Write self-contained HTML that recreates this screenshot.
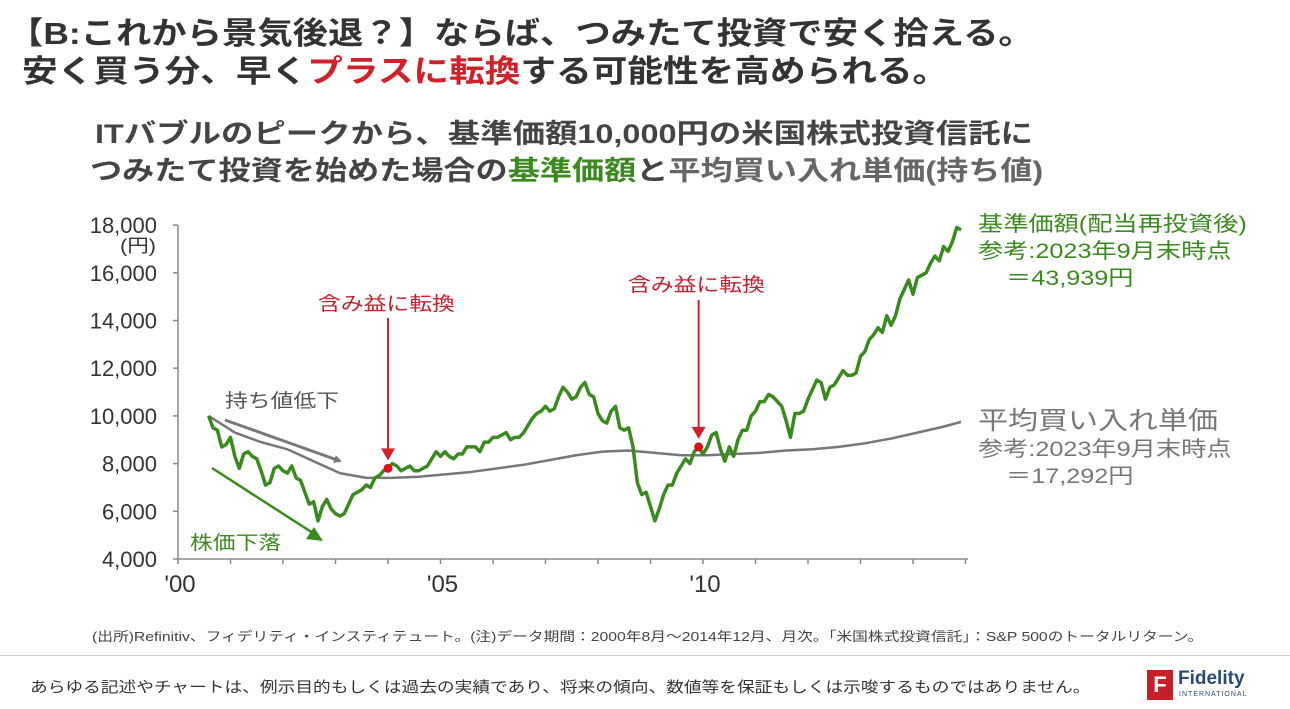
<!DOCTYPE html>
<html><head><meta charset="utf-8">
<style>
html,body{margin:0;padding:0;background:#fff;}
body{width:1290px;height:709px;overflow:hidden;position:relative;font-family:"Liberation Sans","Noto Sans CJK JP",sans-serif;color:#333;}
.t{position:absolute;white-space:nowrap;transform-origin:0 0;transform:scaleX(1.2);}
</style></head>
<body>
<div class="t" style="left:8px;top:8px;font-size:31px;font-weight:bold;color:#333;transform:scaleX(1.14);">【B:これから景気後退？】ならば、つみたて投資で安く拾える。</div>
<div class="t" style="left:22px;top:46px;font-size:31px;font-weight:bold;color:#333;transform:scaleX(1.15);">安く買う分、早く<span style="color:#d0202a">プラスに転換</span>する可能性を高められる。</div>
<div class="t" style="left:95px;top:112px;font-size:27px;font-weight:bold;color:#444;transform:scaleX(1.2);">ITバブルのピークから、基準価額10,000円の米国株式投資信託に</div>
<div class="t" style="left:90px;top:149px;font-size:27px;font-weight:bold;color:#444;transform:scaleX(1.19);">つみたて投資を始めた場合の<span style="color:#3a8a1e">基準価額</span>と<span style="color:#666">平均買い入れ単価(持ち値)</span></div>

<svg id="chart" width="1290" height="709" style="position:absolute;left:0;top:0;">
<defs>
<marker id="ag" markerWidth="8" markerHeight="8" refX="6" refY="4" orient="auto" markerUnits="userSpaceOnUse"><path d="M0,0 L8,4 L0,8 Z" fill="#777"/></marker>
</defs>
<g id="axes"></g><g id="marks"></g><g id="ann"></g>
</svg>

<div class="t" style="left:120px;top:232px;font-size:18px;color:#333;">(円)</div>
<div class="t" style="left:978px;top:211px;font-size:21px;color:#3a8a1e;line-height:27px;">基準価額(配当再投資後)<br>参考:2023年9月末時点<br>&nbsp;&nbsp;&nbsp;&nbsp;＝43,939円</div>
<div class="t" style="left:978px;top:408px;font-size:21px;color:#777;line-height:27px;"><span style="font-size:25px;">平均買い入れ単価</span><br>参考:2023年9月末時点<br>&nbsp;&nbsp;&nbsp;&nbsp;＝17,292円</div>
<div class="t" style="left:318px;top:289px;font-size:19px;color:#c8202a;">含み益に転換</div>
<div class="t" style="left:628px;top:270px;font-size:19px;color:#c8202a;">含み益に転換</div>
<div class="t" style="left:225px;top:386px;font-size:19px;color:#555;">持ち値低下</div>
<div class="t" style="left:190px;top:528px;font-size:19px;color:#3a8a1e;">株価下落</div>

<div class="t" style="left:92px;top:626px;font-size:13px;color:#444;transform:scaleX(1.21);">(出所)Refinitiv、フィデリティ・インスティテュート。(注)データ期間：2000年8月～2014年12月、月次。「米国株式投資信託」：S&amp;P 500のトータルリターン。</div>
<div style="position:absolute;left:0;top:655px;width:1290px;height:1px;background:#ccc;"></div>
<div class="t" style="left:30px;top:676px;font-size:15px;color:#333;transform:scaleX(1.18);">あらゆる記述やチャートは、例示目的もしくは過去の実績であり、将来の傾向、数値等を保証もしくは示唆するものではありません。</div>
<div style="position:absolute;left:1147px;top:670px;width:26px;height:30px;background:#c8202a;color:#fff;font-size:22px;font-weight:bold;text-align:center;line-height:30px;">F</div>
<div class="t" style="left:1178px;top:668px;font-size:19px;font-weight:bold;color:#2a4a7a;transform:none;">Fidelity</div>
<div class="t" style="left:1179px;top:691px;font-size:7px;color:#2a4a7a;letter-spacing:1px;transform:none;">INTERNATIONAL</div>

<script>
const yTicks=[4000,6000,8000,10000,12000,14000,16000,18000];
const yTickLabels=["4,000","6,000","8,000","10,000","12,000","14,000","16,000","18,000"];
const xTickLabels=["'00","'05","'10"];
const xTickYears=[2000,2005,2010];
const startYear=2000, startMonth=7; // Aug 2000 (0-based)
const priceValues=[10000,9500,9400,8700,8800,
9100,8300,7800,8400,8500,8300,8200,7700,7100,7200,7800,7900,
7700,7600,7900,7400,7300,6800,6300,6400,5600,6200,6500,6100,
5900,5800,5900,6300,6700,6800,6900,7100,7000,7400,7500,7700,
7800,8000,7900,7700,7800,7900,7700,7700,7800,7900,8200,8500,
8300,8500,8300,8200,8400,8400,8700,8700,8700,8500,8900,8900,
9100,9100,9200,9300,9000,9100,9100,9300,9600,9900,10100,10200,
10400,10200,10300,10800,11200,11000,10700,10800,11200,11400,10900,10800,
10100,9800,9700,10200,10400,9500,9400,9500,8700,7200,6700,6800,
6200,5600,6100,6700,7100,7100,7600,7900,8200,8000,8500,8700,
8400,8700,9200,9300,8600,8100,8700,8300,9000,9400,9400,10000,
10200,10600,10600,10900,10800,10600,10400,9800,9100,10100,10100,10200,
10700,11100,11500,11400,10700,11200,11300,11600,11900,11700,11700,11800,
12500,12700,13200,13400,13700,13500,14200,13800,14200,14900,15300,15700,
15100,15800,15900,16000,16400,16700,16500,17100,16900,17300,17900,17800];
const avgMonthIdx=[0,6,12,18,24,30,36,42,48,54,60,66,72,78,84,90,96,102,108,114,120,126,132,138,144,150,156,162,168,172];
const avgValues=[10000,9300,8900,8600,8100,7600,7400,7400,7450,7550,7650,7800,7950,8150,8350,8500,8550,8450,8350,8350,8400,8450,8550,8600,8700,8850,9050,9300,9550,9750];
const markerMonthIdx=[41,112];

const NS="http://www.w3.org/2000/svg";
const yBase=559, yPer2000=47.7;
function yScale(v){return yBase-(v-4000)/2000*yPer2000;}
function xYear(y){return 178+(y-2000)*52.5;}
function xMonth(i){return xYear(startYear+(startMonth+i)/12);}
function mk(tag,attrs,parent){const e=document.createElementNS(NS,tag);for(const k in attrs)e.setAttribute(k,attrs[k]);parent.appendChild(e);return e;}
const axes=document.getElementById('axes'),marks=document.getElementById('marks'),ann=document.getElementById('ann');

let ax=mk('line',{x1:178,y1:yScale(4000),x2:178,y2:yScale(18000),stroke:'#888','stroke-width':1.5},axes);


let bx=mk('line',{x1:178,y1:yBase,x2:968,y2:yBase,stroke:'#888','stroke-width':1.5},axes);


yTicks.forEach((v,i)=>{
  let t=mk('line',{x1:173,y1:yScale(v),x2:178,y2:yScale(v),stroke:'#888','stroke-width':1.5},axes);
  
  
  let l=mk('text',{x:157,y:yScale(v)+8,'text-anchor':'end','font-size':22,fill:'#333','font-family':'Liberation Sans, sans-serif'},axes);
  l.textContent=yTickLabels[i];
  
  
});
for(let y=2000;y<=2016;y++){
  const x=xYear(y); if(x>968)break;
  let t=mk('line',{x1:x,y1:yBase,x2:x,y2:yBase+5,stroke:'#888','stroke-width':1.5},axes);
  
  
}
xTickYears.forEach((y,i)=>{
  let l=mk('text',{x:xYear(y)+2,y:yBase+33,'text-anchor':'middle','font-size':24,fill:'#333','font-family':'Liberation Sans, sans-serif'},axes);
  l.textContent=xTickLabels[i];
  
  
});

let gp=mk('polyline',{points:avgValues.map((v,i)=>xMonth(avgMonthIdx[i])+','+yScale(v)).join(' '),fill:'none',stroke:'#777','stroke-width':2.5,'stroke-linejoin':'round'},marks);


let pp=mk('polyline',{points:priceValues.map((v,i)=>xMonth(i)+','+yScale(v)).join(' '),fill:'none',stroke:'#3a8a1e','stroke-width':3.5,'stroke-linejoin':'round'},marks);



markerMonthIdx.forEach((m,k)=>{
  const x=xMonth(m),y=yScale(priceValues[m]);
  let c=mk('circle',{cx:x,cy:y,r:4.5,fill:'#e0101a'},ann);
  
  
  const top=k===0?318:300;
  let a=mk('line',{x1:x,y1:top,x2:x,y2:y-18,stroke:'#d0202a','stroke-width':2},ann);
  
  
  let h=mk('path',{d:`M${x-7},${y-20} L${x+7},${y-20} L${x},${y-8} Z`,fill:'#d0202a'},ann);
  
  
});
let a1=mk('line',{x1:225,y1:420,x2:340,y2:461,stroke:'#777','stroke-width':3,'marker-end':'url(#ag)'},ann);


let a2=mk('path',{d:'M212,468 L316,535',stroke:'#3a8a1e','stroke-width':2.5,fill:'none'},ann);


let a3=mk('path',{d:'M323,541 L306,539 L314,527 Z',fill:'#3a8a1e'},ann);


</script>
</body></html>
